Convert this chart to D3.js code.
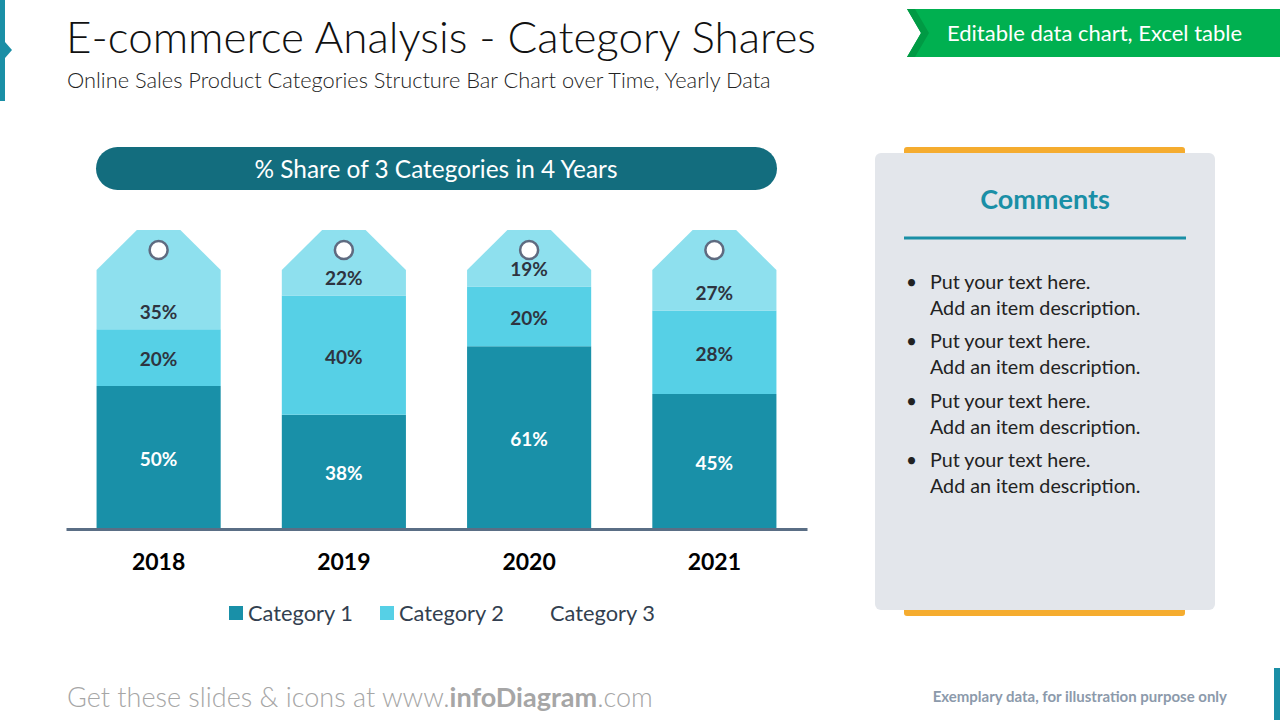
<!DOCTYPE html>
<html>
<head>
<meta charset="utf-8">
<script src="https://cdn.jsdelivr.net/npm/d3@7"></script>
<style>
  body { margin: 0; background: #fff; }
  svg { display: block; font-family: Lato, "Open Sans", sans-serif; }
</style>
</head>
<body>
<div id="chart"></div>
<script>
// data
const years = ["2018", "2019", "2020", "2021"];
const category1 = [50, 38, 61, 45];
const category2 = [20, 40, 20, 28];
const category3 = [35, 22, 19, 27];
const categoryNames = ["Category 1", "Category 2", "Category 3"];
const comments = [
  ["Put your text here.", "Add an item description."],
  ["Put your text here.", "Add an item description."],
  ["Put your text here.", "Add an item description."],
  ["Put your text here.", "Add an item description."]
];

const width = 1280, height = 720;
const colors = ["#1990a8", "#56d0e6", "#8ee0ee"];

const svg = d3.select("#chart")
  .append("svg")
    .attr("width", width)
    .attr("height", height);

// header bits
svg.append("rect").attr("x", 0).attr("y", 0).attr("width", 5).attr("height", 101).attr("fill", "#1a8fa6");
svg.append("path").attr("d", "M5,42 L12,50 L5,58 Z").attr("fill", "#1a8fa6");

svg.append("text")
  .attr("x", 66).attr("y", 53)
  .attr("font-size", 44).attr("font-weight", 300).attr("fill", "#111")
  .text("E-commerce Analysis - Category Shares");

svg.append("text")
  .attr("x", 67).attr("y", 88)
  .attr("font-size", 21.8).attr("font-weight", 300).attr("fill", "#222")
  .text("Online Sales Product Categories Structure Bar Chart over Time, Yearly Data");

// green banner
svg.append("path").attr("d", "M907,9 L1280,9 L1280,57 L907,57 L921,33 Z").attr("fill", "#00b050");
svg.append("path").attr("d", "M907,9 L915,9 L929,33 L915,57 L907,57 L921,33 Z").attr("fill", "#009a44");
svg.append("text")
  .attr("x", 947).attr("y", 41)
  .attr("font-size", 22).attr("fill", "#fff")
  .text("Editable data chart, Excel table");

// chart title pill
svg.append("rect")
  .attr("x", 96).attr("y", 147).attr("width", 681).attr("height", 43)
  .attr("rx", 21.5).attr("fill", "#136d7e");
svg.append("text")
  .attr("x", 436).attr("y", 178)
  .attr("text-anchor", "middle")
  .attr("font-size", 24.4).attr("fill", "#fff")
  .text("% Share of 3 Categories in 4 Years");

// scales
const table = years.map((y, i) => ({ year: y, c1: category1[i], c2: category2[i], c3: category3[i] }));
const keys = ["c1", "c2", "c3"];
const stacked = d3.stack().keys(keys).offset(d3.stackOffsetExpand)(table);

const x = d3.scaleBand()
  .domain(years)
  .range([66, 807])
  .paddingInner(0.33)
  .paddingOuter(0.165);

const y = d3.scaleLinear()
  .domain([0, 1])
  .range([528, 230]);

const taper = 40;
function tagPath(d) {
  const x0 = x(d.data.year), w = x.bandwidth();
  const top = y(d[1]), bottom = y(d[0]);
  const inset = w * 0.325;
  return `M${x0},${bottom} L${x0},${top + taper} L${x0 + inset},${top} L${x0 + w - inset},${top} L${x0 + w},${top + taper} L${x0 + w},${bottom} Z`;
}

const layers = svg.selectAll(".layer")
  .data(stacked)
  .join("g")
    .attr("class", "layer")
    .attr("fill", (d, i) => colors[i]);

layers.selectAll("path")
  .data(d => d)
  .join("path")
    .attr("d", (d, i, nodes) => {
      const k = d3.select(nodes[i].parentNode).datum().key;
      if (k === "c3") return tagPath(d);
      const x0 = x(d.data.year);
      return `M${x0},${y(d[0])} H${x0 + x.bandwidth()} V${y(d[1])} H${x0} Z`;
    });

// tag holes
svg.selectAll(".hole")
  .data(stacked[2])
  .join("circle")
    .attr("class", "hole")
    .attr("cx", d => x(d.data.year) + x.bandwidth() / 2)
    .attr("cy", d => y(d[1]) + 20)
    .attr("r", 9)
    .attr("fill", "#fff")
    .attr("stroke", "#5f6b80")
    .attr("stroke-width", 2.5);

// value labels
stacked.forEach((layer, li) => {
  svg.selectAll(".lbl" + li)
    .data(layer)
    .join("text")
      .attr("class", "lbl" + li)
      .attr("x", d => x(d.data.year) + x.bandwidth() / 2)
      .attr("y", d => (li === 2 ? y(d[0]) - 19 : (y(d[0]) + y(d[1])) / 2) + 2)
      .attr("dy", "0.35em")
      .attr("text-anchor", "middle")
      .attr("font-size", 19)
      .attr("font-weight", 700)
      .attr("fill", li === 0 ? "#fff" : "#2e3440")
      .text(d => d.data[layer.key] + "%");
});

// axis
const xAxis = svg.append("g")
  .attr("transform", "translate(0,529)")
  .call(d3.axisBottom(x).tickSize(0).tickPadding(25));
xAxis.select(".domain").attr("stroke", "#5a6e85").attr("stroke-width", 3);
xAxis.selectAll("text")
  .attr("font-family", "Lato, sans-serif")
  .attr("font-size", 23).attr("font-weight", 700).attr("fill", "#000");

// legend
const legendX = [229, 380, 531];
const legend = svg.selectAll(".legend")
  .data(categoryNames)
  .join("g")
    .attr("class", "legend")
    .attr("transform", (d, i) => `translate(${legendX[i]},606)`);
legend.append("rect")
  .attr("width", 14).attr("height", 14)
  .attr("fill", (d, i) => i === 2 ? "#fff" : colors[i]);
legend.append("text")
  .attr("x", 19).attr("y", 7).attr("dy", "0.35em")
  .attr("font-size", 21.8).attr("fill", "#333f50")
  .text(d => d);

// comments panel
svg.append("rect").attr("x", 904).attr("y", 147).attr("width", 281).attr("height", 469).attr("rx", 3).attr("fill", "#f5ac2f");
svg.append("rect").attr("x", 875).attr("y", 153).attr("width", 340).attr("height", 457).attr("rx", 6).attr("fill", "#e3e6eb");
svg.append("text")
  .attr("x", 1045).attr("y", 209)
  .attr("text-anchor", "middle")
  .attr("font-size", 27).attr("font-weight", 700).attr("fill", "#1a8fa6")
  .text("Comments");
svg.append("line")
  .attr("x1", 904).attr("x2", 1186).attr("y1", 238).attr("y2", 238)
  .attr("stroke", "#1a8fa6").attr("stroke-width", 3);

const items = svg.selectAll(".item")
  .data(comments)
  .join("g")
    .attr("class", "item")
    .attr("transform", (d, i) => `translate(0,${282 + i * 59.3})`);
items.append("text")
  .attr("x", 906).attr("y", 7)
  .attr("font-size", 19).attr("fill", "#222")
  .text("•");
items.selectAll(".ln")
  .data(d => d)
  .join("text")
    .attr("class", "ln")
    .attr("x", 930).attr("y", (d, i) => 7 + i * 26)
    .attr("font-size", 19.7).attr("fill", "#222")
    .text(d => d);

// footer
const footer = svg.append("text")
  .attr("x", 67).attr("y", 707)
  .attr("font-size", 27).attr("fill", "#a6a6a6");
footer.append("tspan").attr("font-weight", 300).text("Get these slides & icons at www.");
footer.append("tspan").attr("font-weight", 700).text("infoDiagram");
footer.append("tspan").attr("font-weight", 300).text(".com");

svg.append("text")
  .attr("x", 1227).attr("y", 702)
  .attr("text-anchor", "end")
  .attr("font-size", 15).attr("font-weight", 700).attr("fill", "#8c9aab")
  .text("Exemplary data, for illustration purpose only");
svg.append("rect").attr("x", 1274).attr("y", 668).attr("width", 6).attr("height", 52).attr("fill", "#1a8fa6");
</script>
</body>
</html>
